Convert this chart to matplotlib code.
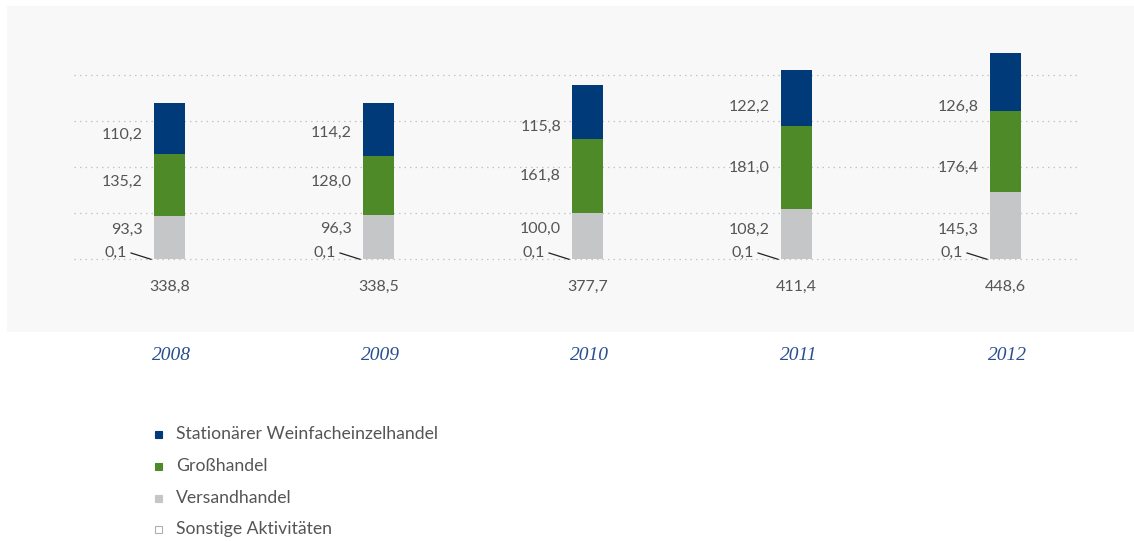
"""
Umsatz nach Geschäftsbereichen 2008-2012 als gestapeltes Säulendiagramm.
"""

import matplotlib.pyplot as plt
from matplotlib.patches import Rectangle

# --- Daten ---------------------------------------------------------------
YEARS = ["2008", "2009", "2010", "2011", "2012"]
SONSTIGE = [0.1, 0.1, 0.1, 0.1, 0.1]
VERSAND = [93.3, 96.3, 100.0, 108.2, 145.3]
GROSS = [135.2, 128.0, 161.8, 181.0, 176.4]
STATIONAER = [110.2, 114.2, 115.8, 122.2, 126.8]
TOTALS = ["338,8", "338,5", "377,7", "411,4", "448,6"]
LEGEND_LABELS = [
    "Stationärer Weinfacheinzelhandel",
    "Großhandel",
    "Versandhandel",
    "Sonstige Aktivitäten",
]

# --- Layout / Stil -------------------------------------------------------
W, H = 1134, 541
NAVY = "#003a78"
GREEN = "#4f8a28"
GREY = "#c5c6c8"
PANEL = "#f8f8f8"
TEXT = "#555555"
YEAR_BLUE = "#284f8e"
GRID = "#c4c4c4"
FONT = "Lato"
BAR_W = 0.148
# y positions (data units) of the segment labels, as placed in the original
LABEL_Y = [
    (63, 167, 270),
    (65, 167, 274),
    (65, 180, 287),
    (63, 198, 330),
    (63, 198, 330),
]


def px(x0, y0, x1, y1):
    """pixel box (top-left origin) -> figure fraction rect"""
    return [x0 / W, 1 - y1 / H, (x1 - x0) / W, (y1 - y0) / H]


def fmt(v):
    return f"{v:.1f}".replace(".", ",")


fig = plt.figure(figsize=(W / 100, H / 100), dpi=100)
fig.patch.set_facecolor("white")
fig.patches.append(Rectangle((7 / W, 1 - 332 / H), (1134 - 7) / W, (332 - 6) / H,
                             transform=fig.transFigure, facecolor=PANEL,
                             edgecolor="none", zorder=-5))

# axes: x 74..1077 px, y=0 at 259 px, y=500 at 29 px
ax = fig.add_axes(px(74, 29, 1077, 259))
ax.set_zorder(2)
ax.set_facecolor("none")
x0 = (74 - 169.5) / 209
x1 = (1077 - 169.5) / 209
ax.set_xlim(x0, x1)
ax.set_ylim(0, 500)
for s in ax.spines.values():
    s.set_visible(False)
ax.set_xticks([])
ax.set_yticks([])

for gy in [0, 100, 200, 300, 400]:
    ax.axhline(gy, color=GRID, linewidth=0.9, linestyle=(0, (1.2, 3.2)),
               zorder=1, clip_on=False)

xs = list(range(len(YEARS)))
ax.bar(xs, SONSTIGE, BAR_W, color="white", edgecolor=GREY, linewidth=0.8, zorder=3)
b1 = [s for s in SONSTIGE]
ax.bar(xs, VERSAND, BAR_W, bottom=b1, color=GREY, zorder=3)
b2 = [a + b for a, b in zip(b1, VERSAND)]
ax.bar(xs, GROSS, BAR_W, bottom=b2, color=GREEN, zorder=3)
b3 = [a + b for a, b in zip(b2, GROSS)]
ax.bar(xs, STATIONAER, BAR_W, bottom=b3, color=NAVY, zorder=3)

unit = 1 / 209  # one pixel in x data units
ypx = 500 / 230  # one pixel in y data units
lbl = dict(family=FONT, fontsize=11.5, color=TEXT)
for i, x in enumerate(xs):
    left = x - BAR_W / 2
    vals = (VERSAND[i], GROSS[i], STATIONAER[i])
    for v, ly in zip(vals, LABEL_Y[i]):
        ax.text(left - 11 * unit, ly, fmt(v), ha="right", va="center", **lbl)
    ax.text(left - 27 * unit, 14, fmt(SONSTIGE[i]), ha="right", va="center", **lbl)
    ax.plot([left - 23 * unit, left - 3 * unit], [6 * ypx, -0.3 * ypx],
            color="#222222", linewidth=0.9, clip_on=False, zorder=4)
    ax.text(x, -27.5 * ypx, TOTALS[i], ha="center", va="center", clip_on=False, **lbl)
    ax.text(x + 2 * unit, -96 * ypx, YEARS[i], ha="center", va="center",
            family="Liberation Serif", style="italic", fontsize=14,
            color=YEAR_BLUE, clip_on=False)

# legend, drawn by hand
colors = [(NAVY, NAVY), (GREEN, GREEN), (GREY, GREY), ("white", "#b0b0b0")]
rows = [434, 466, 498, 529]
for (fc, ec), label, ry in zip(colors, LEGEND_LABELS, rows):
    fig.patches.append(Rectangle((155 / W, 1 - (ry + 3.5) / H), 7 / W, 7 / H,
                                 transform=fig.transFigure, facecolor=fc,
                                 edgecolor=ec, linewidth=0.8))
    fig.text(176 / W, 1 - ry / H, label, ha="left", va="center",
             family=FONT, fontsize=12.7, color=TEXT)

fig.savefig("out.png", dpi=100)
